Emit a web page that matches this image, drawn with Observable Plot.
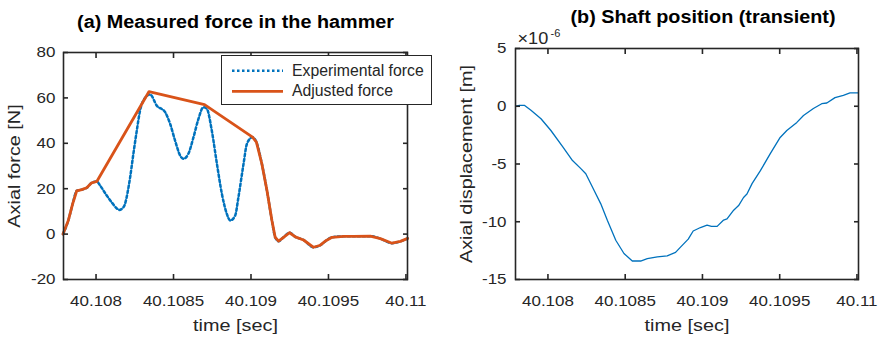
<!DOCTYPE html>
<html>
<head>
<meta charset="utf-8">
<script src="https://cdn.jsdelivr.net/npm/d3@7"></script>
<script src="https://cdn.jsdelivr.net/npm/@observablehq/plot@0.6"></script>
<style>
  body { margin: 0; background: #fff; }
  #figure { position: relative; width: 882px; height: 337px; overflow: hidden; font-family: "Liberation Sans", Arial, sans-serif; }
  .panel { position: absolute; top: 0; }
  #legend { position: absolute; left: 221px; top: 55px; }
</style>
</head>
<body>
<div id="figure">
  <div id="panelA" class="panel" style="left:0"></div>
  <div id="panelB" class="panel" style="left:441px"></div>
  <div id="legend"></div>
</div>
<script>
// ---- shared time axis ----
const timeDomain = [40.10779, 40.11001];
const timeTicks = [40.108, 40.1085, 40.109, 40.1095, 40.11];
const timeTickLabels = ["40.108", "40.1085", "40.109", "40.1095", "40.11"];

// ---- (a) force in the hammer [N] ----
const forceTicks = [-20, 0, 20, 40, 60, 80];
const expTime = [40.107787, 40.107821, 40.107849, 40.107875, 40.107908, 40.10794, 40.107972, 40.108005,
  40.108026, 40.108069, 40.108101, 40.108134, 40.10815, 40.108166, 40.108187, 40.108202, 40.10822, 40.108241,
  40.108263, 40.108284, 40.108306, 40.108349, 40.108392, 40.108446, 40.108478, 40.10851, 40.108543, 40.108564,
  40.108596, 40.108629, 40.108661, 40.108693, 40.108715, 40.108747, 40.10878, 40.108812, 40.108844, 40.108866,
  40.108898, 40.108919, 40.108952, 40.108974, 40.10901,
  40.109035, 40.10907, 40.109103, 40.109135, 40.109156, 40.109178, 40.10921, 40.109249, 40.109286, 40.109339,
  40.109404, 40.109447, 40.109486, 40.109523, 40.109598, 40.109662, 40.10977, 40.109835, 40.10991, 40.109964, 40.110011];
const expForce = [0, 6, 13.3, 19, 19.6, 20.4, 22.6, 23.2,
  21.4, 17, 14, 11.3, 10.6, 11.1, 13.3, 17.8, 25, 35.4,
  45.6, 54.4, 58.9, 61.5, 56.6, 53.7, 48.6, 41.2, 34.6, 33.2,
  35.4, 42.7, 50.8, 55.9, 55.2, 45.6, 31, 17.8, 8.9, 6,
  8.2, 16.3, 31, 39.8, 42.7,
  40.5, 31, 19.2, 6, -1.4, -3.1, -1.4, 0.6, -1.2, -2.6,
  -5.8, -4.9, -2.8, -1.4, -1, -1, -0.9, -2, -4, -3.2, -1.9];
const adjTime = [40.107787, 40.107821, 40.107849, 40.107875, 40.107908, 40.10794, 40.107972, 40.108005,
  40.108342, 40.1087, 40.10901,
  40.109035, 40.10907, 40.109103, 40.109135, 40.109156, 40.109178, 40.10921, 40.109249, 40.109286, 40.109339,
  40.109404, 40.109447, 40.109486, 40.109523, 40.109598, 40.109662, 40.10977, 40.109835, 40.10991, 40.109964, 40.110011];
const adjForce = [0, 6, 13.3, 19, 19.6, 20.4, 22.6, 23.2,
  62.8, 57, 42.7,
  40.5, 31, 19.2, 6, -1.4, -3.1, -1.4, 0.6, -1.2, -2.6,
  -5.8, -4.9, -2.8, -1.4, -1, -1, -0.9, -2, -4, -3.2, -1.9];

// ---- (b) shaft axial displacement [x 1e-6 m] ----
const dispTicks = [-15, -10, -5, 0, 5];
const dispTime = [40.107794, 40.107815, 40.107847, 40.10789, 40.107955, 40.108019, 40.108095, 40.108159,
  40.108213, 40.108245, 40.108299, 40.108342, 40.108385, 40.108439, 40.108492, 40.108546, 40.1086, 40.108643,
  40.108708, 40.108772, 40.108826, 40.108858, 40.108908, 40.10894, 40.108987, 40.10903, 40.109058, 40.109095,
  40.109137, 40.109159, 40.109202, 40.109234, 40.109266, 40.109288, 40.109321, 40.109374, 40.109439, 40.109503,
  40.109546, 40.109611, 40.109654, 40.109718, 40.109772, 40.109805, 40.109858, 40.109912, 40.109955, 40.110008];
const dispMicro = [0, 0.08, 0.08, -0.35, -1.08, -2.1, -3.5, -4.7,
  -5.4, -5.85, -7.3, -8.45, -9.9, -11.6, -12.75, -13.4, -13.4, -13.2,
  -13.05, -12.95, -12.65, -12.2, -11.5, -10.8, -10.5, -10.3, -10.4, -10.4,
  -9.85, -9.76, -9.0, -8.6, -7.9, -7.6, -6.7, -5.6, -4.1, -2.7,
  -2.1, -1.4, -0.8, -0.2, 0.22, 0.28, 0.75, 0.95, 1.15, 1.15];

// ---- text ----
const titleA = "(a) Measured force in the hammer";
const titleB = "(b) Shaft position (transient)";
const xTitle = "time [sec]";
const yTitleA = "Axial force [N]";
const yTitleB = "Axial displacement [m]";
const exponentBase = "\u00d710";
const exponentPower = "-6";
const seriesNames = ["Experimental force", "Adjusted force"];

// ---- style ----
const FONT = "'Liberation Sans', Arial, Helvetica, sans-serif";
const INK = "#262626";
const BLUE = "#0072BD";
const ORANGE = "#D95319";
const DOTS = "2.5,2.5";

const expRows = expTime.map((t, i) => ({t, f: expForce[i]}));
const adjRows = adjTime.map((t, i) => ({t, f: adjForce[i]}));
const dispRows = dispTime.map((t, i) => ({t, d: dispMicro[i]}));

const fmtTime = d => timeTickLabels[timeTicks.indexOf(d)] ?? String(d);
const fmtNum = d => String(d);
const blank = () => "";

// box with inward ticks on all four sides, MATLAB style
function boxAxes(yTicks, yPad) {
  return [
    Plot.frame({stroke: INK, strokeWidth: 1.6}),
    Plot.axisX(timeTicks, {anchor: "bottom", tickSize: 0, tickPadding: 16, tickFormat: fmtTime, fontSize: 15, label: null}),
    Plot.axisX(timeTicks, {anchor: "bottom", tickSize: -5, tickFormat: blank, strokeWidth: 1.6, label: null}),
    Plot.axisX(timeTicks, {anchor: "top", tickSize: -5, tickFormat: blank, strokeWidth: 1.6, label: null}),
    Plot.axisY(yTicks, {anchor: "left", tickSize: 0, tickPadding: yPad, tickFormat: fmtNum, fontSize: 15, label: null}),
    Plot.axisY(yTicks, {anchor: "left", tickSize: -5, tickFormat: blank, strokeWidth: 1.6, label: null}),
    Plot.axisY(yTicks, {anchor: "right", tickSize: -5, tickFormat: blank, strokeWidth: 1.6, label: null})
  ];
}

function titles(title, titleDx, titleDy, yTitle, yTitleDx) {
  return [
    Plot.text([title], {text: d => d, frameAnchor: "top", textAnchor: "middle", lineAnchor: "bottom", dx: titleDx, dy: titleDy,
      fontSize: 18, fontWeight: "bold", fill: "#000"}),
    Plot.text([xTitle], {text: d => d, frameAnchor: "bottom", textAnchor: "middle", lineAnchor: "bottom", dy: 51.5,
      fontSize: 17, fill: INK}),
    Plot.text([yTitle], {text: d => d, frameAnchor: "left", textAnchor: "middle", lineAnchor: "bottom", rotate: -90, dx: yTitleDx,
      fontSize: 17, fill: INK})
  ];
}

const baseStyle = {fontFamily: FONT, color: INK, background: "transparent", overflow: "visible"};

const plotA = Plot.plot({
  width: 441, height: 337,
  marginLeft: 63, marginRight: 34, marginTop: 52, marginBottom: 58,
  style: baseStyle,
  x: {domain: timeDomain},
  y: {domain: [forceTicks[0], forceTicks[forceTicks.length - 1]]},
  marks: [
    Plot.line(expRows, {x: "t", y: "f", stroke: BLUE, strokeWidth: 2.5, strokeDasharray: DOTS, curve: "monotone-x"}),
    Plot.line(adjRows, {x: "t", y: "f", stroke: ORANGE, strokeWidth: 2.8, strokeLinejoin: "round"}),
    ...boxAxes(forceTicks, 8),
    ...titles(titleA, 0, -24.5, yTitleA, -43.5)
  ]
});

const plotB = Plot.plot({
  width: 441, height: 337,
  marginLeft: 74, marginRight: 24, marginTop: 48, marginBottom: 58,
  style: baseStyle,
  x: {domain: timeDomain},
  y: {domain: [dispTicks[0], dispTicks[dispTicks.length - 1]]},
  marks: [
    Plot.line(dispRows, {x: "t", y: "d", stroke: BLUE, strokeWidth: 1.3}),
    ...boxAxes(dispTicks, 9),
    ...titles(titleB, 16, -25.5, yTitleB, -44),
    Plot.text([exponentBase], {text: d => d, frameAnchor: "top-left", textAnchor: "start", lineAnchor: "bottom",
      dx: 2, dy: -5, fontSize: 16, fill: INK}),
    Plot.text([exponentPower], {text: d => d, frameAnchor: "top-left", textAnchor: "start", lineAnchor: "bottom",
      dx: 35, dy: -11.5, fontSize: 11, fill: INK})
  ]
});

document.getElementById("panelA").appendChild(plotA);
document.getElementById("panelB").appendChild(plotB);

// widen the glyphs slightly, the way the exported figure renders its type
const stretchByText = new Map([
  [titleA, 1.1], [titleB, 1.1],
  [xTitle, 1.165], [yTitleA, 1.165], [yTitleB, 1.165],
  [exponentBase, 1.13]
]);
function stretchText(svg) {
  svg.querySelectorAll("text").forEach(t => {
    const s = t.textContent;
    if (!s) return;
    let k = stretchByText.get(s);
    if (!k) {
      const g = t.closest("g[aria-label]");
      if (g && /tick label/.test(g.getAttribute("aria-label"))) k = 1.13;
    }
    if (!k) return;
    const w = t.getComputedTextLength();
    if (!(w > 0)) return;
    t.setAttribute("textLength", (w * k).toFixed(1));
    t.setAttribute("lengthAdjust", "spacingAndGlyphs");
  });
}
stretchText(plotA);
stretchText(plotB);

// legend for panel (a)
const legend = d3.select("#legend").append("svg").attr("width", 211).attr("height", 50);
legend.append("rect").attr("x", 0.5).attr("y", 0.5).attr("width", 210).attr("height", 49)
  .attr("fill", "#fff").attr("stroke", INK).attr("stroke-width", 1);
const legendStyles = [
  {color: BLUE, width: 2.5, dash: DOTS},
  {color: ORANGE, width: 2.8, dash: null}
];
seriesNames.forEach((name, i) => {
  const y = 15.7 + i * 20.6;
  legend.append("line").attr("x1", 11).attr("x2", 62).attr("y1", y).attr("y2", y)
    .attr("stroke", legendStyles[i].color).attr("stroke-width", legendStyles[i].width)
    .attr("stroke-dasharray", legendStyles[i].dash);
  legend.append("text").attr("x", 71).attr("y", y + 4.8)
    .attr("font-family", FONT).attr("font-size", 15.8).attr("fill", INK).text(name);
});
</script>
</body>
</html>
